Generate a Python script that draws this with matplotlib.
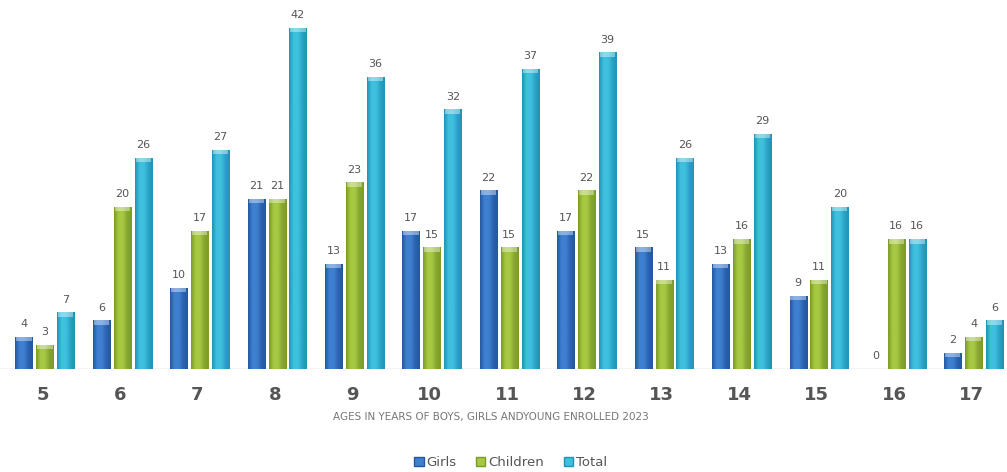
import numpy as np
import matplotlib.pyplot as plt
from matplotlib.colors import LinearSegmentedColormap
from matplotlib.patches import Patch

ages = ['5', '6', '7', '8', '9', '10', '11', '12', '13', '14', '15', '16', '17']
girls = [4, 6, 10, 21, 13, 17, 22, 17, 15, 13, 9, 0, 2]
children = [3, 20, 17, 21, 23, 15, 15, 22, 11, 16, 11, 16, 4]
total = [7, 26, 27, 42, 36, 32, 37, 39, 26, 29, 20, 16, 6]

series = [
    ('Girls', girls, ('#24579f', '#3f7fd0', '#2a62b0')),
    ('Children', children, ('#7d9a26', '#a6c843', '#87a62e')),
    ('Total', total, ('#1f93b3', '#3fc0de', '#2aa3c4')),
]

fig = plt.figure(figsize=(10.07, 4.72), dpi=100)
ax = fig.add_axes([0, 0.218, 1, 0.771])

x = np.arange(len(ages))
width = 0.22
offsets = [-0.27, 0, 0.27]
grad = np.linspace(0, 1, 64).reshape(1, -1)

for (name, vals, cols), off in zip(series, offsets):
    cmap = LinearSegmentedColormap.from_list(name, [cols[0], cols[1], cols[1], cols[2], cols[0]])
    bars = ax.bar(x + off, vals, width, color=cols[1], edgecolor='none', zorder=2)
    for b, v in zip(bars, vals):
        if v <= 0:
            continue
        x0, w, h = b.get_x(), b.get_width(), b.get_height()
        im = ax.imshow(grad, cmap=cmap, aspect='auto', extent=[x0, x0 + w, 0, h], zorder=3)
        im.set_clip_path(b)
        # light cap on top of each bar
        ax.bar(x0 + w / 2, 0.55, w * 0.9, bottom=h - 0.55, color='white', alpha=0.4,
               edgecolor='none', zorder=4)
    for xi, v in zip(x + off, vals):
        ax.annotate(str(v), (xi, v), xytext=(0, 5.5), textcoords='offset points',
                    ha='center', va='bottom', fontsize=8, color='#555555')

ax.set_xlim(-0.58, len(ages) - 1 + 0.43)
ax.set_ylim(0, 44.8)
ax.axhline(0, color='#c8c8c8', lw=1, zorder=1)
for s in ax.spines.values():
    s.set_visible(False)
ax.set_yticks([])
ax.set_xticks(x - 0.03)
ax.set_xticklabels(ages, fontsize=13, fontweight='bold', color='#555555')
ax.tick_params(axis='x', length=0, pad=12)

fig.text(0.487, 0.117, 'AGES IN YEARS OF BOYS, GIRLS ANDYOUNG ENROLLED 2023',
         ha='center', va='center', fontsize=7.5, color='#777777')

handles = [Patch(facecolor=c[1], edgecolor=c[0]) for _, _, c in series]
fig.legend(handles, [s[0] for s in series], loc='center', bbox_to_anchor=(0.507, 0.02),
           ncol=3, frameon=False, fontsize=9.5, handlelength=0.7, handleheight=0.7,
           handletextpad=0.2, columnspacing=1.5, labelcolor='#555555')

fig.savefig('out.png', dpi=100)
